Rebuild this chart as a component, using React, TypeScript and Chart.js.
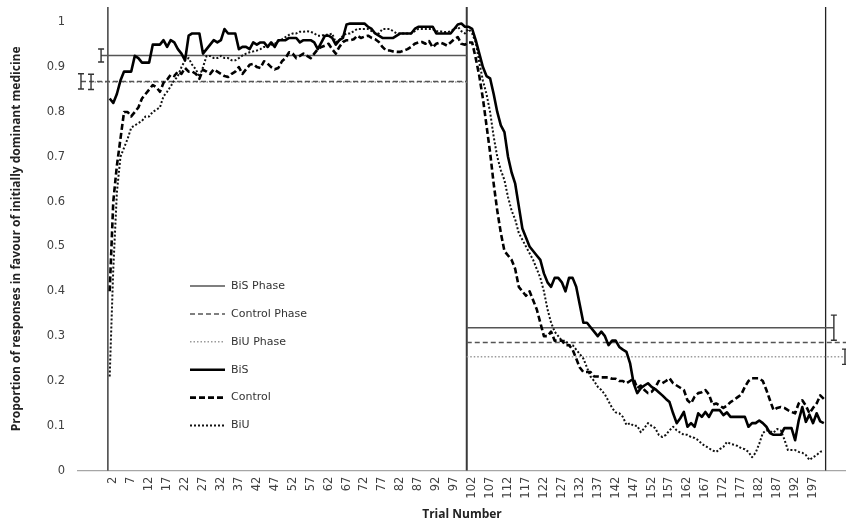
import React, { useEffect, useRef } from "react";
import { Chart, registerables } from "chart.js";

Chart.register(...registerables);

// ---- data ----
const BIS = [
  0.83, 0.82, 0.84, 0.87, 0.89, 0.89, 0.89, 0.925, 0.92, 0.91,
  0.91, 0.91, 0.95, 0.95, 0.95, 0.96, 0.945, 0.96, 0.955, 0.94,
  0.93, 0.915, 0.97, 0.975, 0.975, 0.975, 0.93, 0.94, 0.95, 0.96,
  0.955, 0.96, 0.985, 0.975, 0.975, 0.975, 0.94, 0.945, 0.945, 0.94,
  0.955, 0.95, 0.955, 0.955, 0.945, 0.955, 0.945, 0.96, 0.96, 0.96,
  0.965, 0.965, 0.965, 0.955, 0.96, 0.96, 0.96, 0.955, 0.94, 0.955,
  0.97, 0.97, 0.965, 0.95, 0.96, 0.965, 0.995, 0.997, 0.997, 0.997,
  0.997, 0.997, 0.99, 0.985, 0.975, 0.97, 0.965, 0.965, 0.965, 0.965,
  0.97, 0.975, 0.975, 0.975, 0.975, 0.985, 0.99, 0.99, 0.99, 0.99,
  0.99, 0.975, 0.975, 0.975, 0.975, 0.975, 0.985, 0.995, 0.997, 0.99,
  0.99, 0.985, 0.96, 0.93, 0.9, 0.88, 0.875, 0.84, 0.8, 0.77,
  0.755, 0.7, 0.665, 0.64, 0.59, 0.54, 0.52, 0.5, 0.49, 0.48,
  0.47, 0.44, 0.42, 0.41, 0.43, 0.43, 0.42, 0.4, 0.43, 0.43,
  0.41, 0.37, 0.33, 0.33, 0.32, 0.31, 0.3, 0.31, 0.3, 0.28,
  0.29, 0.29, 0.276, 0.27, 0.265, 0.24, 0.195, 0.173, 0.184, 0.19,
  0.195, 0.187, 0.182, 0.175, 0.168, 0.16, 0.153, 0.128, 0.106, 0.117,
  0.131, 0.098, 0.106, 0.098, 0.128, 0.12, 0.131, 0.12, 0.135, 0.135,
  0.135, 0.124, 0.13, 0.12, 0.12, 0.12, 0.12, 0.12, 0.098, 0.106,
  0.106, 0.112, 0.106, 0.098, 0.084, 0.08, 0.08, 0.08, 0.095, 0.095,
  0.095, 0.068, 0.112, 0.142, 0.109, 0.125, 0.106, 0.128, 0.11, 0.106,
];

const CONTROL = [
  0.4, 0.6, 0.68, 0.74, 0.8, 0.8, 0.79, 0.8, 0.81, 0.83,
  0.84, 0.85, 0.86, 0.855, 0.845, 0.865, 0.872, 0.883, 0.88, 0.89,
  0.885, 0.898, 0.89, 0.89, 0.885, 0.874, 0.894, 0.89, 0.885, 0.895,
  0.89, 0.885, 0.88, 0.878, 0.885, 0.89, 0.9, 0.885, 0.895, 0.905,
  0.907, 0.9, 0.898, 0.913, 0.908, 0.9, 0.895, 0.898, 0.913, 0.92,
  0.933, 0.93, 0.92, 0.925, 0.93, 0.925, 0.92, 0.93, 0.94, 0.945,
  0.948, 0.952, 0.94, 0.93, 0.945, 0.956, 0.96, 0.96, 0.962, 0.97,
  0.965, 0.968, 0.97, 0.965, 0.962, 0.956, 0.945, 0.937, 0.937, 0.935,
  0.934, 0.934, 0.937, 0.94, 0.945, 0.952, 0.955, 0.956, 0.952, 0.958,
  0.944, 0.952, 0.955, 0.952, 0.948, 0.955, 0.962, 0.967, 0.952, 0.95,
  0.955, 0.955, 0.92, 0.88, 0.83, 0.77, 0.71, 0.64, 0.58, 0.53,
  0.49, 0.48, 0.47, 0.45, 0.41, 0.4, 0.39, 0.4, 0.38, 0.36,
  0.33, 0.3, 0.3, 0.31, 0.29, 0.29, 0.29, 0.28, 0.28, 0.27,
  0.25, 0.23, 0.22, 0.22, 0.22, 0.21, 0.21, 0.208, 0.208, 0.208,
  0.205, 0.205, 0.2, 0.2, 0.195, 0.2, 0.205, 0.184, 0.19, 0.18,
  0.173, 0.176, 0.185, 0.2, 0.195, 0.2, 0.206, 0.195, 0.19, 0.185,
  0.18, 0.157, 0.15, 0.165, 0.173, 0.175, 0.18, 0.17, 0.147, 0.15,
  0.145, 0.14, 0.145, 0.153, 0.158, 0.164, 0.17, 0.187, 0.2, 0.206,
  0.206, 0.206, 0.2, 0.18, 0.157, 0.135, 0.14, 0.142, 0.14, 0.135,
  0.131, 0.128, 0.15, 0.157, 0.145, 0.128, 0.14, 0.15, 0.168, 0.16,
];

const BIU = [
  0.21, 0.45, 0.62, 0.7, 0.72, 0.74, 0.765, 0.77, 0.775, 0.78,
  0.79, 0.79, 0.8, 0.805, 0.81, 0.835, 0.845, 0.857, 0.87, 0.88,
  0.9, 0.915, 0.92, 0.905, 0.895, 0.878, 0.9, 0.925, 0.925, 0.92,
  0.92, 0.925, 0.92, 0.92, 0.915, 0.915, 0.92, 0.926, 0.93, 0.933,
  0.935, 0.937, 0.94, 0.945, 0.945, 0.95, 0.952, 0.958, 0.962, 0.967,
  0.972, 0.975, 0.975, 0.979, 0.979, 0.98, 0.979, 0.975, 0.97, 0.97,
  0.972, 0.972, 0.975, 0.955, 0.96, 0.97, 0.975, 0.975, 0.98, 0.985,
  0.985, 0.985, 0.985, 0.98, 0.975, 0.975, 0.985, 0.985, 0.985, 0.98,
  0.975, 0.975, 0.975, 0.975, 0.975, 0.98, 0.985, 0.985, 0.985, 0.985,
  0.985, 0.98, 0.98, 0.978, 0.978, 0.98, 0.985, 0.99, 0.98, 0.975,
  0.985, 0.975, 0.955, 0.91, 0.87, 0.84, 0.8, 0.745, 0.7, 0.67,
  0.648, 0.61, 0.58, 0.56, 0.53, 0.515, 0.5, 0.485, 0.47, 0.45,
  0.43, 0.4, 0.36, 0.33, 0.31, 0.3, 0.29, 0.29, 0.28, 0.28,
  0.27, 0.26, 0.25, 0.23, 0.21, 0.2, 0.187, 0.18, 0.17, 0.155,
  0.14, 0.13, 0.128, 0.12, 0.102, 0.106, 0.1, 0.1, 0.086, 0.095,
  0.106, 0.1, 0.095, 0.08, 0.075, 0.08, 0.09, 0.098, 0.09, 0.085,
  0.08, 0.08, 0.075, 0.073, 0.068, 0.06, 0.055, 0.05, 0.045, 0.042,
  0.048, 0.053, 0.064, 0.06, 0.058, 0.055, 0.05, 0.048, 0.042, 0.03,
  0.04, 0.06, 0.084, 0.09, 0.088, 0.085, 0.093, 0.09, 0.07, 0.046,
  0.046, 0.046, 0.042, 0.04, 0.035, 0.024, 0.03, 0.035, 0.042, 0.045,
];

const X_TICKS = [
  2, 7, 12, 17, 22, 27, 32, 37, 42, 47, 52, 57, 62, 67, 72, 77, 82, 87, 92, 97,
  102, 107, 112, 117, 122, 127, 132, 137, 142, 147, 152, 157, 162, 167, 172, 177, 182, 187, 192, 197,
];
const Y_TICKS = [0, 0.1, 0.2, 0.3, 0.4, 0.5, 0.6, 0.7, 0.8, 0.9, 1];

const PHASE_BOUNDS = [0.5, 100.5, 200.5];
const Y_TOP = 1.034;

const PHASE_LABELS = ["BiS Phase", "Control Phase", "BiU Phase"];
const PHASE1_MEAN = [0.926, 0.868, 0.867];
const PHASE1_ERR = [0.0145, 0.017, 0.017];
const PHASE1_FROM = [-1.4, -7.0, -4.2];
const PHASE2_MEAN = [0.319, 0.286, 0.254];
const PHASE2_ERR = [0.028, 0.03, 0.017];
const PHASE2_TO = [202.8, 208.9, 205.9];

const SERIES_LABELS = ["BiS", "Control", "BiU"];

// ---- styles ----
const X_MIN = -7.83;
const X_MAX = 206.18;
const PHASE_STYLES = [
  { color: "#555555", width: 1.5, dash: [] as number[] },
  { color: "#555555", width: 1.5, dash: [5, 3] },
  { color: "#9a9a9a", width: 1.5, dash: [1.5, 2] },
];
const SERIES_STYLES = [
  { color: "#000000", width: 2.6, dash: [] as number[] },
  { color: "#000000", width: 2.6, dash: [6, 3] },
  { color: "#111111", width: 2, dash: [2, 2] },
];

const toPoints = (arr: number[]) => arr.map((v, i) => ({ x: i + 1, y: v }));

const errorBarPlugin = {
  id: "phaseErrorBars",
  afterDatasetsDraw(chart: any) {
    const { ctx, scales } = chart;
    const xs = scales.x;
    const ys = scales.y;
    const draw = (x: number, m: number, e: number) => {
      const px = xs.getPixelForValue(x);
      const top = ys.getPixelForValue(m + e);
      const bot = ys.getPixelForValue(m - e);
      ctx.beginPath();
      ctx.moveTo(px, top);
      ctx.lineTo(px, bot);
      ctx.moveTo(px - 3, top);
      ctx.lineTo(px + 3, top);
      ctx.moveTo(px - 3, bot);
      ctx.lineTo(px + 3, bot);
      ctx.stroke();
    };
    ctx.save();
    ctx.strokeStyle = "#333333";
    ctx.lineWidth = 1.4;
    ctx.setLineDash([]);
    for (let i = 0; i < PHASE_LABELS.length; i++) {
      draw(PHASE1_FROM[i], PHASE1_MEAN[i], PHASE1_ERR[i]);
      draw(PHASE2_TO[i], PHASE2_MEAN[i], PHASE2_ERR[i]);
    }
    ctx.restore();
  },
};

const insideLegendPlugin = {
  id: "insideLegend",
  afterDraw(chart: any) {
    const { ctx, chartArea } = chart;
    const x0 = chartArea.left + 112;
    let y = chartArea.top + 279;
    ctx.save();
    chart.data.datasets.forEach((ds: any) => {
      if (ds.inLegend === false) return;
      ctx.beginPath();
      ctx.setLineDash(ds.borderDash || []);
      ctx.lineWidth = ds.borderWidth;
      ctx.strokeStyle = ds.borderColor;
      ctx.moveTo(x0, y);
      ctx.lineTo(x0 + 35, y);
      ctx.stroke();
      ctx.setLineDash([]);
      ctx.fillStyle = "#333333";
      ctx.font = '11px "DejaVu Sans"';
      ctx.textBaseline = "middle";
      ctx.textAlign = "left";
      ctx.fillText(ds.label, x0 + 41, y);
      y += 27.9;
    });
    ctx.restore();
  },
};

export default function App() {
  const canvasRef = useRef<HTMLCanvasElement | null>(null);

  useEffect(() => {
    if (!canvasRef.current) return;

    const phaseSets = PHASE_LABELS.map((label, i) => ({
      label,
      order: 1,
      data: [
        { x: PHASE1_FROM[i], y: PHASE1_MEAN[i] },
        { x: PHASE_BOUNDS[1], y: PHASE1_MEAN[i] },
        { x: PHASE_BOUNDS[1], y: null },
        { x: PHASE_BOUNDS[1], y: PHASE2_MEAN[i] },
        { x: PHASE2_TO[i], y: PHASE2_MEAN[i] },
      ],
      borderColor: PHASE_STYLES[i].color,
      borderWidth: PHASE_STYLES[i].width,
      borderDash: PHASE_STYLES[i].dash,
      pointRadius: 0,
      spanGaps: false,
      fill: false,
    }));

    const seriesData = [BIS, CONTROL, BIU];
    const seriesSets = SERIES_LABELS.map((label, i) => ({
      label,
      order: 0,
      data: toPoints(seriesData[i]),
      borderColor: SERIES_STYLES[i].color,
      borderWidth: SERIES_STYLES[i].width,
      borderDash: SERIES_STYLES[i].dash,
      pointRadius: 0,
      fill: false,
    }));

    const boundSets = PHASE_BOUNDS.map((b, i) => ({
      label: "",
      inLegend: false,
      order: 2,
      data: [
        { x: b, y: 0 },
        { x: b, y: Y_TOP },
      ],
      borderColor: i === 1 ? "#3a3a3a" : "#222222",
      borderWidth: i === 1 ? 2 : 1.3,
      pointRadius: 0,
      fill: false,
    }));

    const chart = new Chart(canvasRef.current, {
      type: "line",
      data: { datasets: [...phaseSets, ...seriesSets, ...boundSets] as any },
      plugins: [errorBarPlugin, insideLegendPlugin],
      options: {
        responsive: false,
        animation: false,
        devicePixelRatio: 1,
        layout: { padding: { top: 7, left: 0, right: 0, bottom: 0 } },
        plugins: {
          legend: { display: false },
          tooltip: { enabled: false },
        },
        elements: { line: { tension: 0, borderCapStyle: "butt", borderJoinStyle: "round" } },
        scales: {
          x: {
            type: "linear",
            min: X_MIN,
            max: X_MAX,
            afterBuildTicks: (axis: any) => {
              axis.ticks = X_TICKS.map((v) => ({ value: v }));
            },
            afterFit: (scale: any) => {
              scale.height = 53.3;
              scale.paddingLeft = 0;
              scale.paddingRight = 0;
            },
            ticks: {
              autoSkip: false,
              minRotation: 90,
              maxRotation: 90,
              padding: 6,
              color: "#404040",
              font: { family: "DejaVu Sans", size: 11.5 },
              callback: (v: any) => String(v),
            },
            grid: { display: false, drawTicks: false },
            border: { display: true, color: "#a6a6a6", width: 1.2 },
            title: {
              display: true,
              text: "Trial Number",
              color: "#222222",
              font: { family: "Open Sans", size: 12, weight: "bold" },
              padding: { top: 0, bottom: 2 },
            },
          },
          y: {
            type: "linear",
            min: 0,
            max: Y_TOP,
            afterBuildTicks: (axis: any) => {
              axis.ticks = Y_TICKS.map((v) => ({ value: v }));
            },
            afterFit: (scale: any) => {
              scale.width = 78;
              scale.paddingTop = 0;
              scale.paddingBottom = 0;
            },
            ticks: {
              padding: 13,
              color: "#404040",
              font: { family: "DejaVu Sans", size: 11.5 },
              callback: (v: any) => String(Math.round(Number(v) * 10) / 10),
            },
            grid: { display: false, drawTicks: false },
            border: { display: false },
            title: {
              display: true,
              text: "Proportion of responses in favour of initially dominant medicine",
              color: "#222222",
              font: { family: "Open Sans", size: 12, weight: "bold" },
              padding: { top: 9, bottom: 0 },
            },
          },
        },
      } as any,
    });

    return () => chart.destroy();
  }, []);

  return (
    <div style={{ position: "absolute", left: 0, top: 0, width: 846, height: 524, background: "#ffffff" }}>
      <canvas ref={canvasRef} width={846} height={524} style={{ display: "block" }} />
    </div>
  );
}
